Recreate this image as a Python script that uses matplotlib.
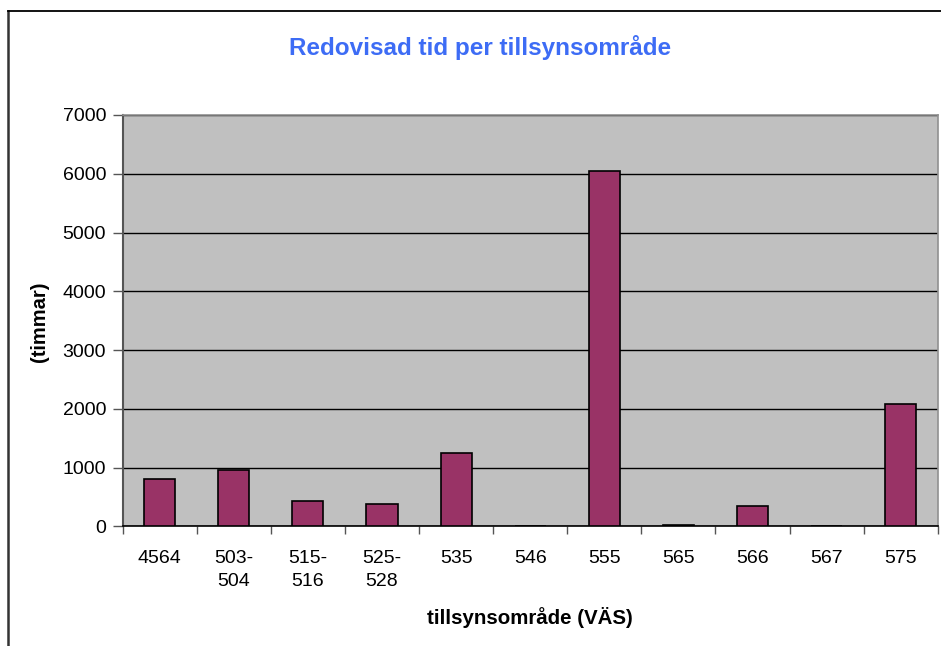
import numpy as np
import matplotlib
matplotlib.use("Agg")
import matplotlib.pyplot as plt
from matplotlib.lines import Line2D

categories = ["4564", "503-\n504", "515-\n516", "525-\n528", "535", "546",
              "555", "565", "566", "567", "575"]
hours = [800, 960, 425, 375, 1245, 0, 6050, 28, 345, 0, 2085]

plt.rcParams['font.family'] = ['Liberation Sans', 'DejaVu Sans']

W, H = 941, 646
fig = plt.figure(figsize=(W / 100, H / 100), dpi=100)
ax = fig.add_axes([122.7 / W, 1 - 526.3 / H, (937.7 - 122.7) / W, (526.3 - 115) / H])

x = np.arange(len(categories))
ax.set_facecolor("#C0C0C0")
ax.bar(x, hours, width=0.42, color="#993366", edgecolor="black", linewidth=1.2, zorder=3)

ax.set_xlim(-0.5, len(categories) - 0.5)
ax.set_ylim(0, 7000)
ax.set_yticks(np.arange(0, 7001, 1000))
ax.yaxis.grid(True, color="black", linewidth=1.0, zorder=1)

# category labels centred, tick marks on category borders
ax.set_xticks(x)
ax.set_xticklabels(categories, fontsize=14, linespacing=1.45, va="top")
ax.tick_params(axis="x", which="major", length=0, pad=17)
ax.set_xticks(np.arange(-0.5, len(categories)), minor=True)
ax.tick_params(axis="x", which="minor", length=6, width=1, color="#555555", direction="out")
ax.tick_params(axis="y", length=7, width=1, color="#555555", pad=5, labelsize=14)

for side in ["top", "right"]:
    ax.spines[side].set_color("#909090")
    ax.spines[side].set_linewidth(1.2)
ax.spines["left"].set_color("#555555")
ax.spines["left"].set_linewidth(1.5)
ax.spines["bottom"].set_color("black")
ax.spines["bottom"].set_linewidth(1.2)

fig.text(480 / W, 1 - 47 / H, "Redovisad tid per tillsynsområde", ha="center", va="center",
         fontsize=17.5, fontweight="bold", color="#3D6CF5")
fig.text(530 / W, 1 - 618 / H, "tillsynsområde (VÄS)", ha="center", va="center",
         fontsize=14.8, fontweight="bold")
fig.text(40 / W, 1 - 322 / H, "(timmar)", ha="center", va="center", rotation=90,
         fontsize=14.5, fontweight="bold")

# chart frame (left and top edges visible)
fig.add_artist(Line2D([8 / W, 8 / W], [0, 1 - 11 / H], color="#333333", linewidth=1.8,
                      transform=fig.transFigure))
fig.add_artist(Line2D([8 / W, 1], [1 - 11 / H, 1 - 11 / H], color="black", linewidth=1.3,
                      transform=fig.transFigure))

fig.savefig("out.png", dpi=100)
